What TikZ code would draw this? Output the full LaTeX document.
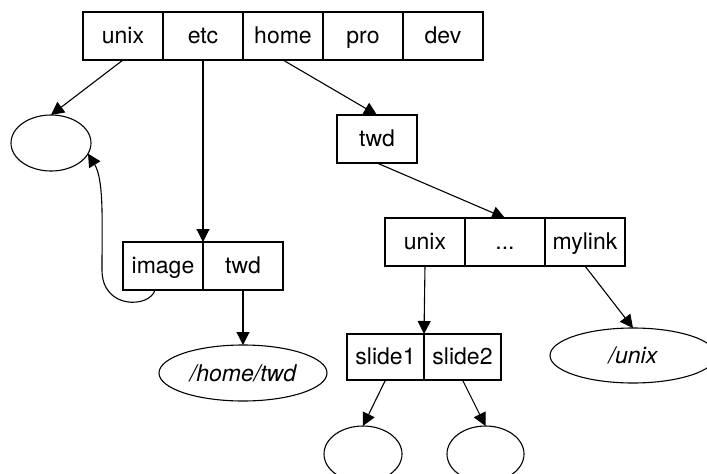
\documentclass[tikz,border=0pt]{standalone}
\usepackage{fontspec}
\setmainfont{TeX Gyre Heros}
\usetikzlibrary{shapes.geometric, arrows.meta, positioning}

\begin{document}
\begin{tikzpicture}[x=1pt, y=-1pt, line width=1.1pt,
    >={Triangle[length=13pt, width=13pt]},
    font=\fontsize{23pt}{27pt}\selectfont,
    cell/.style={draw, minimum width=80pt, minimum height=48pt, inner sep=0pt,
        outer sep=0pt, text height=16pt, text depth=1pt},
    blob/.style={draw, ellipse, minimum width=80pt, minimum height=56pt,
        inner sep=0pt, outer sep=0pt}]
    \useasboundingbox (0,0) rectangle (707,474);

    % root directory
    \node [cell] (unix) at (123,36) {unix};
    \node [cell, right=0pt of unix] (etc) {etc};
    \node [cell, right=0pt of etc] (home) {home};
    \node [cell, right=0pt of home] (pro) {pro};
    \node [cell, right=0pt of pro] (dev) {dev};

    \node [blob] (kernel) at (51,143) {};

    % /etc
    \node [cell] (image) at (163,266) {image};
    \node [cell, right=0pt of image] (twdlink) {twd};
    \node [blob, minimum width=168pt] (hometwd) at (243,373) {\itshape /home/twd};

    % /home and /home/twd
    \node [cell] (twd) at (377,139) {twd};
    \node [cell] (unixdir) at (425,242) {unix};
    \node [cell, right=0pt of unixdir] (dots) {...};
    \node [cell, right=0pt of dots] (mylink) {mylink};
    \node [blob, minimum width=166pt, minimum height=55pt] (unixlink) at (633,355.5) {\itshape /unix};

    \node [cell, minimum width=77pt, minimum height=46pt] (slide1) at (385.5,357) {slide1};
    \node [cell, minimum width=77pt, minimum height=46pt, right=0pt of slide1] (slide2) {slide2};
    \node [blob, minimum width=78pt] (fileA) at (363,454) {};
    \node [blob, minimum width=77pt] (fileB) at (485.5,454) {};

    \draw [->] (unix.south) -- (kernel.north);
    \draw [->] (etc.south) -- (image.north east);
    \draw [->] (home.south) -- (twd.north);
    \draw [->] (twd.south) -- (dots.north);
    \draw [->] (twdlink.south) -- (hometwd.north);
    \draw [->] (unixdir.south) -- (slide1.north east);
    \draw [->] (mylink.south) -- (unixlink.north);
    \draw [->] (slide1.south) -- (fileA.north);
    \draw [->] (slide2.south) -- (fileB.north);
    \draw [->] ([xshift=-8pt]image.south) .. controls (150,308) and (102,310) .. (102,270)
        .. controls (102,220) and (104,180) .. (kernel.-16);
\end{tikzpicture}
\end{document}
